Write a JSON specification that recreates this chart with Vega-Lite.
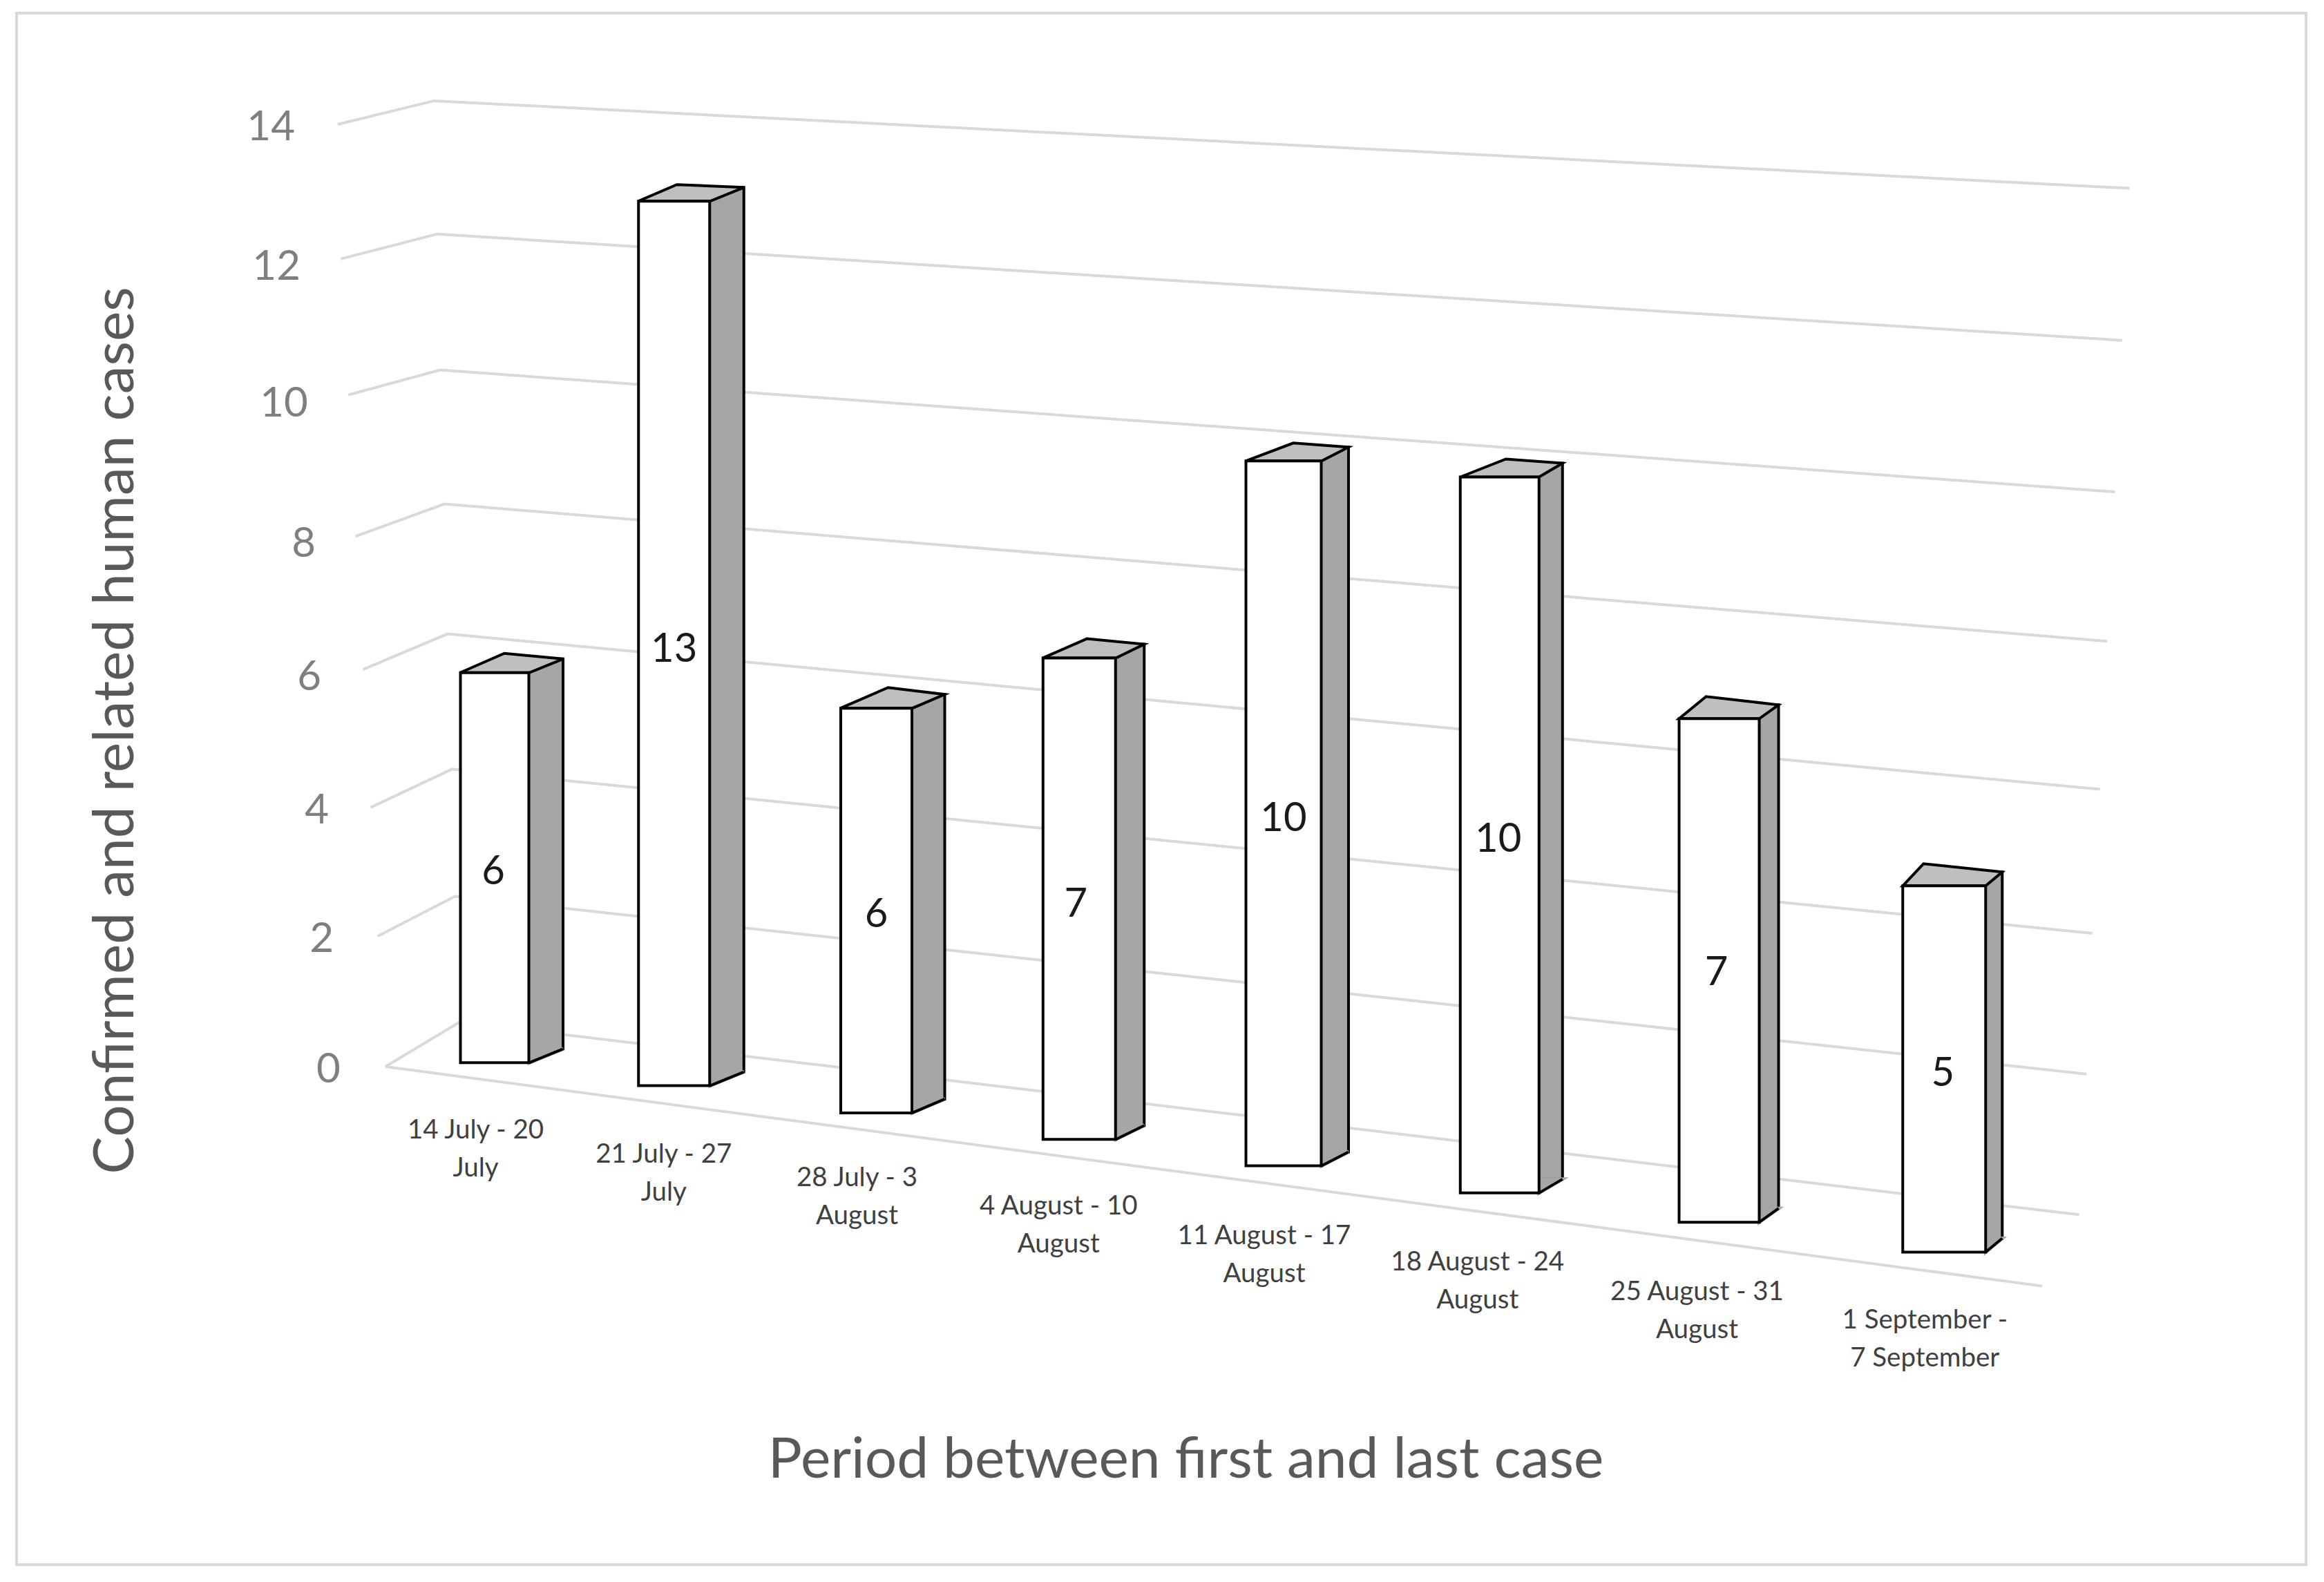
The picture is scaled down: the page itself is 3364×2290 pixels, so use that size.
{"$schema":"https://vega.github.io/schema/vega-lite/v6.json","width":3314,"height":2246,"autosize":{"type":"none"},"padding":{"left":24,"top":19,"right":26,"bottom":25},"background":"white","config":{"view":{"stroke":"#d9d9d9","strokeWidth":4},"font":"Lato"},"datasets":{"bars":[{"period":"14 July - 20 July","label":"14 July - 20\nJuly","cases":6,"week":1,"top":6.4,"floor":0.8},{"period":"21 July - 27 July","label":"21 July - 27\nJuly","cases":13,"week":2,"top":13.17,"floor":0.47},{"period":"28 July - 3 August","label":"28 July - 3\nAugust","cases":6,"week":3,"top":5.89,"floor":0.08},{"period":"4 August - 10 August","label":"4 August - 10\nAugust","cases":7,"week":4,"top":6.61,"floor":-0.3},{"period":"11 August - 17 August","label":"11 August - 17\nAugust","cases":10,"week":5,"top":9.44,"floor":-0.68},{"period":"18 August - 24 August","label":"18 August - 24\nAugust","cases":10,"week":6,"top":9.21,"floor":-1.07},{"period":"25 August - 31 August","label":"25 August - 31\nAugust","cases":7,"week":7,"top":5.74,"floor":-1.49},{"period":"1 September - 7 September","label":"1 September -\n7 September","cases":5,"week":8,"top":3.34,"floor":-1.92}],"ticks":[{"tick":14,"across":12.16,"level":13.95},{"tick":12,"across":12.4,"level":11.88},{"tick":10,"across":12.73,"level":9.84},{"tick":8,"across":13.07,"level":7.76},{"tick":6,"across":13.31,"level":5.78},{"tick":4,"across":13.64,"level":3.8},{"tick":2,"across":13.85,"level":1.89},{"tick":0,"across":14.15,"level":-0.05}],"grid":[{"line":"14","across":14.03,"level":14},{"line":"14","across":18.24,"level":14.35},{"line":"14","across":92.29,"level":13.05},{"line":"12","across":14.16,"level":12},{"line":"12","across":18.37,"level":12.37},{"line":"12","across":91.97,"level":10.79},{"line":"10","across":14.49,"level":9.98},{"line":"10","across":18.5,"level":10.35},{"line":"10","across":91.65,"level":8.54},{"line":"8","across":14.81,"level":7.88},{"line":"8","across":18.69,"level":8.36},{"line":"8","across":91.32,"level":6.32},{"line":"6","across":15.13,"level":5.9},{"line":"6","across":18.82,"level":6.43},{"line":"6","across":91,"level":4.12},{"line":"4","across":15.46,"level":3.85},{"line":"4","across":19.02,"level":4.42},{"line":"4","across":90.67,"level":1.98},{"line":"2","across":15.78,"level":1.94},{"line":"2","across":19.15,"level":2.53},{"line":"2","across":90.41,"level":-0.11},{"line":"0","across":16.11,"level":0},{"line":"0","across":19.34,"level":0.66},{"line":"0","across":90.09,"level":-2.2},{"line":"floor","across":16.11,"level":0},{"line":"floor","across":88.48,"level":-3.26}]},"resolve":{"scale":{"x":"independent","y":"independent"},"axis":{"x":"independent","y":"independent"}},"layer":[{"layer":[{"data":{"name":"grid"},"mark":{"type":"line","color":"#d9d9d9","strokeWidth":4},"encoding":{"detail":{"field":"line"},"x":{"field":"across","type":"quantitative","scale":{"domain":[0,100],"range":[0,3314],"nice":false,"zero":false},"axis":{"labels":false,"ticks":false,"domain":false,"grid":false,"title":"Period between first and last case","titleFont":"Lato","titleFontSize":82,"titleFontWeight":"normal","titleColor":"#595959","titleX":1692,"titleY":-152,"titleAlign":"center","titleBaseline":"middle"}},"y":{"field":"level","type":"quantitative","scale":{"domain":[0,14],"range":[1525,161],"nice":false,"zero":false},"axis":{"values":[0,2,4,6,8,10,12,14],"labels":false,"ticks":false,"domain":false,"grid":false,"title":"Confirmed and related human cases","titleFont":"Lato","titleFontSize":82,"titleFontWeight":"normal","titleColor":"#595959","titleX":143,"titleY":1038,"titleAngle":-90,"titleAlign":"center","titleBaseline":"middle"}}}},{"data":{"name":"ticks"},"mark":{"type":"text","align":"right","baseline":"middle","fontSize":60,"color":"#7f7f7f","font":"Lato"},"encoding":{"text":{"field":"tick","type":"quantitative"},"x":{"field":"across","type":"quantitative"},"y":{"field":"level","type":"quantitative"}}}]},{"data":{"name":"bars"},"resolve":{"scale":{"xOffset":"independent","yOffset":"independent","shape":"independent","size":"independent"}},"encoding":{"x":{"field":"period","type":"nominal","sort":null,"scale":{"type":"band","domain":["14 July - 20 July","21 July - 27 July","28 July - 3 August","4 August - 10 August","11 August - 17 August","18 August - 24 August","25 August - 31 August","1 September - 7 September"],"range":[692,3090],"paddingInner":0,"paddingOuter":0},"axis":null}},"layer":[{"mark":{"type":"bar","fill":"#a6a6a6","stroke":"black","strokeWidth":4,"yOffset":-20,"y2Offset":-20},"encoding":{"xOffset":{"field":"week","type":"quantitative","scale":{"domain":[1,2,3,4,5,6,7,8],"range":[50,12,5,0,-2,13,32,60],"zero":false,"nice":false}},"size":{"field":"week","type":"quantitative","legend":null,"scale":{"domain":[1,2,3,4,5,6,7,8],"range":[98,98,94,82,78,68,56,48],"zero":false,"nice":false}},"y":{"field":"top","type":"quantitative","scale":{"domain":[0,14],"range":[1600,188.6],"nice":false,"zero":false},"axis":null},"y2":{"field":"floor"}}},{"mark":{"type":"point","filled":true,"fill":"#a6a6a6","stroke":"#a6a6a6","strokeWidth":5,"size":4,"opacity":1},"encoding":{"xOffset":{"field":"week","type":"quantitative","scale":{"domain":[1,2,3,4,5,6,7,8],"range":[0,-40,-47,-53,-57,-44,-26,0],"zero":false,"nice":false}},"y":{"field":"floor","type":"quantitative"},"shape":{"field":"period","type":"nominal","legend":null,"sort":null,"scale":{"domain":["14 July - 20 July","21 July - 27 July","28 July - 3 August","4 August - 10 August","11 August - 17 August","18 August - 24 August","25 August - 31 August","1 September - 7 September"],"range":["M50 0L99 -20L50 -20Z","M52 0L101 -20L52 -20Z","M52 0L99 -20L52 -20Z","M53 0L94 -20L53 -20Z","M55 0L94 -20L55 -20Z","M57 0L91 -20L57 -20Z","M58 0L86 -20L58 -20Z","M60 0L84 -20L60 -20Z"]}}}},{"mark":{"type":"point","filled":false,"stroke":"black","strokeWidth":4,"size":4,"opacity":1},"encoding":{"xOffset":{"field":"week","type":"quantitative","scale":{"domain":[1,2,3,4,5,6,7,8],"range":[0,-40,-47,-53,-57,-44,-26,0],"zero":false,"nice":false}},"y":{"field":"floor","type":"quantitative"},"shape":{"field":"period","type":"nominal","legend":null,"sort":null,"scale":{"domain":["14 July - 20 July","21 July - 27 July","28 July - 3 August","4 August - 10 August","11 August - 17 August","18 August - 24 August","25 August - 31 August","1 September - 7 September"],"range":["M50 0L99 -20","M52 0L101 -20","M52 0L99 -20","M53 0L94 -20","M55 0L94 -20","M57 0L91 -20","M58 0L86 -20","M60 0L84 -20"]}}}},{"mark":{"type":"point","filled":true,"fill":"#bfbfbf","stroke":"black","strokeWidth":4,"size":4,"opacity":1},"encoding":{"xOffset":{"field":"week","type":"quantitative","scale":{"domain":[1,2,3,4,5,6,7,8],"range":[0,-40,-47,-53,-57,-44,-26,0],"zero":false,"nice":false}},"y":{"field":"top","type":"quantitative"},"shape":{"field":"period","type":"nominal","legend":null,"sort":null,"scale":{"domain":["14 July - 20 July","21 July - 27 July","28 July - 3 August","4 August - 10 August","11 August - 17 August","18 August - 24 August","25 August - 31 August","1 September - 7 September"],"range":["M-50 0L14 -28L99 -20L50 0Z","M-52 0L4 -24L101 -20L52 0Z","M-52 0L17 -30L99 -20L52 0Z","M-53 0L11 -28L94 -20L53 0Z","M-55 0L14 -26L94 -20L55 0Z","M-57 0L9 -26L91 -20L57 0Z","M-58 0L-19 -32L86 -20L58 0Z","M-60 0L-30 -32L84 -20L60 0Z"]}}}},{"mark":{"type":"bar","fill":"white","stroke":"black","strokeWidth":4},"encoding":{"xOffset":{"field":"week","type":"quantitative","scale":{"domain":[1,2,3,4,5,6,7,8],"range":[0,-40,-47,-53,-57,-44,-26,0],"zero":false,"nice":false}},"size":{"field":"week","type":"quantitative","legend":null,"scale":{"domain":[1,2,3,4,5,6,7,8],"range":[99,103,103,105,109,114,116,120],"zero":false,"nice":false}},"y":{"field":"top","type":"quantitative"},"y2":{"field":"floor"}}},{"mark":{"type":"text","fontSize":58,"color":"#1a1a1a","font":"Lato"},"encoding":{"text":{"field":"cases","type":"quantitative"},"xOffset":{"field":"week","type":"quantitative","scale":{"domain":[1,2,3,4,5,6,7,8],"range":[-2,-40,-47,-58,-57,-46,-30,-2],"zero":false,"nice":false}},"yOffset":{"field":"week","type":"quantitative","scale":{"domain":[1,2,3,4,5,6,7,8],"range":[-356,-678,-294,-309,-433,-403,-210,-64],"zero":false,"nice":false}},"y":{"datum":0,"type":"quantitative"}}},{"mark":{"type":"text","fontSize":38.5,"color":"#404040","font":"Lato","lineBreak":"\n","lineHeight":55},"encoding":{"text":{"field":"label","type":"nominal"},"xOffset":{"field":"week","type":"quantitative","scale":{"domain":[1,2,3,4,5,6,7,8],"range":[-27.5,-55,-75,-83,-85,-76,-58,-28],"zero":false,"nice":false}},"yOffset":{"field":"week","type":"quantitative","scale":{"domain":[1,2,3,4,5,6,7,8],"range":[17,52,86,127,170,208,251,292],"zero":false,"nice":false}},"y":{"datum":0,"type":"quantitative"}}}]}]}
